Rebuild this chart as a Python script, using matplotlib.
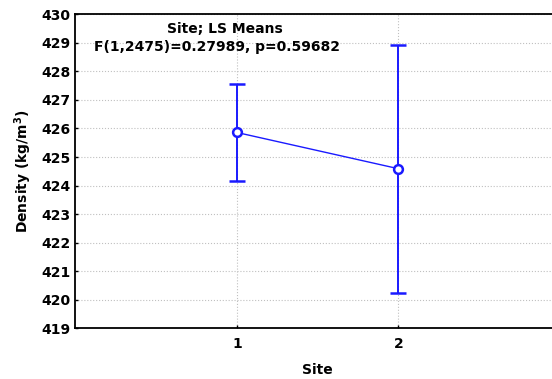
import matplotlib
matplotlib.use("Agg")
import matplotlib.pyplot as plt

sites = [1, 2]
means = [425.86, 424.59]
upper = [427.55, 428.94]
lower = [424.15, 420.25]
yticks = list(range(419, 431))

plt.rcParams['font.family'] = ['DejaVu Sans']
plt.rcParams['font.weight'] = 'bold'

W, H = 552, 379
fig = plt.figure(figsize=(W / 100, H / 100), dpi=100)
# x axis runs 0..3, its right end lies just past the picture edge
left, right, top, bottom = 75.3, 75.3 + 3 * 161.6, 14.3, 328.3
ax = fig.add_axes([left / W, 1 - bottom / H, (right - left) / W, (bottom - top) / H])

err = [[m - l for m, l in zip(means, lower)], [u - m for u, m in zip(upper, means)]]
ax.errorbar(sites, means, yerr=err, color='#1a1aff', lw=1.0, elinewidth=1.4,
            capsize=5.6, capthick=1.4, marker='o', markersize=6.3,
            markerfacecolor='white', markeredgecolor='#1a1aff', markeredgewidth=1.8, zorder=3)

ax.set_xlim(0, 3)
ax.set_ylim(419, 430)
ax.set_xticks(sites)
ax.set_yticks(yticks)
ax.grid(True, color='#c0c0c0', ls=':', lw=0.8)
ax.tick_params(direction='in', length=2, labelsize=10, width=1)
ax.tick_params(axis='x', pad=6)
for lab in ax.get_xticklabels() + ax.get_yticklabels():
    lab.set_fontweight('bold')
ax.spines['right'].set_visible(False)
for s in ['left', 'top', 'bottom']:
    ax.spines[s].set_linewidth(1.3)

ax.set_xlabel('Site', fontsize=10, fontweight='bold', labelpad=9)
ax.set_ylabel('Density (kg/m$^3$)', fontsize=10, fontweight='bold', labelpad=5)

fig.text(225 / W, 1 - 29 / H, 'Site; LS Means', ha='center', va='center',
         fontsize=10, fontweight='bold')
fig.text(217.5 / W, 1 - 47 / H, 'F(1,2475)=0.27989, p=0.59682', ha='center', va='center',
         fontsize=10, fontweight='bold')

fig.savefig('out.png', dpi=100)
